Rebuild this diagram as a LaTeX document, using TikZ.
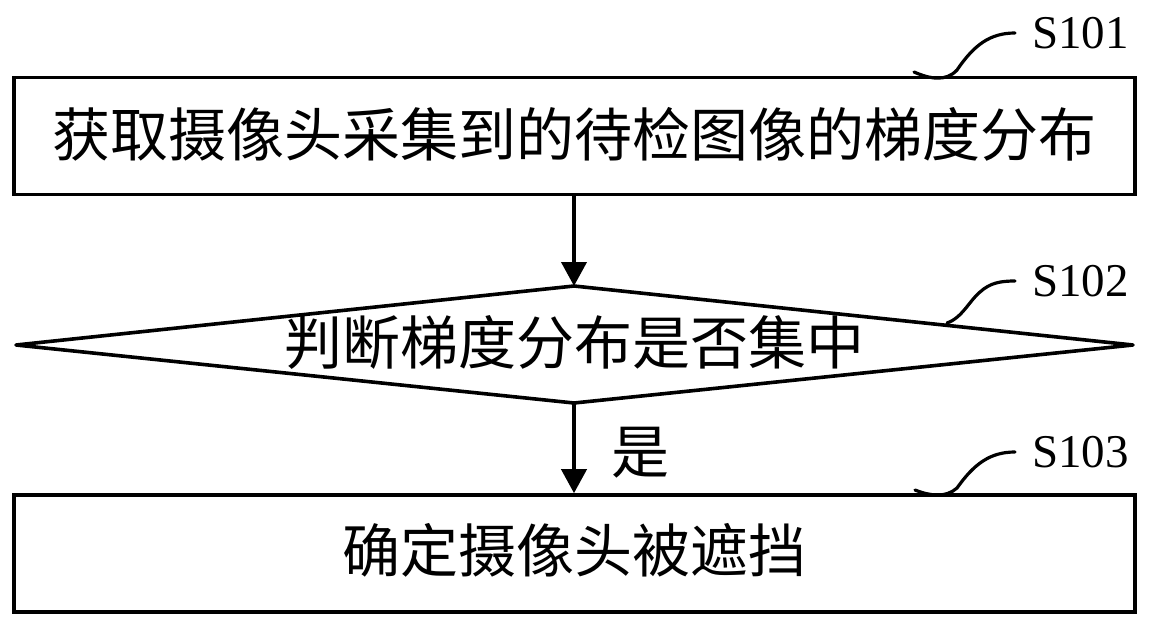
\documentclass[tikz,border=0pt]{standalone}
\usepackage{fontspec}
\setmainfont{Liberation Serif}
\newfontfamily\cjk{Noto Sans CJK SC}
\usetikzlibrary{arrows.meta}
\tikzset{
  stepbox/.style={draw, line width=3.6pt, minimum width=1121pt, minimum height=117pt, inner sep=0pt},
  decline/.style={draw, line width=3.6pt, line join=round},
  cjktext/.style={font=\cjk\fontsize{58}{62}\selectfont, inner sep=0pt},
  steplabel/.style={font=\fontsize{47}{50}\selectfont, anchor=west, inner sep=0pt},
  flow/.style={line width=4pt, -{Triangle[length=24pt,width=25pt]}},
  leader/.style={line width=3.2pt, line cap=round}
}
\begin{document}
\begin{tikzpicture}[x=1pt,y=-1pt]
\useasboundingbox (0,0) rectangle (1150,629);
\node[stepbox] (b1) at (574.5,136) {};
\node[cjktext] (t1) at (574,134) {获取摄像头采集到的待检图像的梯度分布};
\coordinate (dl) at (16,345);
\coordinate (dr) at (1133,345);
\coordinate (dt) at (574,286);
\coordinate (db) at (574,403);
\draw[decline] (dl) -- (dt) -- (dr) -- (db) -- cycle;
\node[cjktext] (t2) at (574,342) {判断梯度分布是否集中};
\node[stepbox] (b3) at (574.5,553.5) {};
\node[cjktext] (t3) at (574,550) {确定摄像头被遮挡};
\draw[flow] (b1.south -| dt) -- (dt);
\draw[flow] (db) -- (b3.north -| db);
\node[cjktext] (yes) at (640,453) {是};
% labels
\node[steplabel] (s1) at (1032,33) {S101};
\node[steplabel] (s2) at (1032,281) {S102};
\node[steplabel] (s3) at (1032,452) {S103};
\coordinate (l1a) at (914,72);
\coordinate (l2a) at (947,323);
\coordinate (l3a) at (915,490);
\draw[leader] (l1a) .. controls (930,79) and (946,82) .. (957,70) .. controls (974,45) and (990,33) .. ([xshift=-17pt]s1.west);
\draw[leader] (l2a) .. controls (962,318) and (970,300) .. (980,292) .. controls (990,283) and (1000,281) .. ([xshift=-17pt]s2.west);
\draw[leader] (l3a) .. controls (930,496) and (946,498) .. (957,488) .. controls (974,464) and (990,452) .. ([xshift=-17pt]s3.west);
\end{tikzpicture}
\end{document}
